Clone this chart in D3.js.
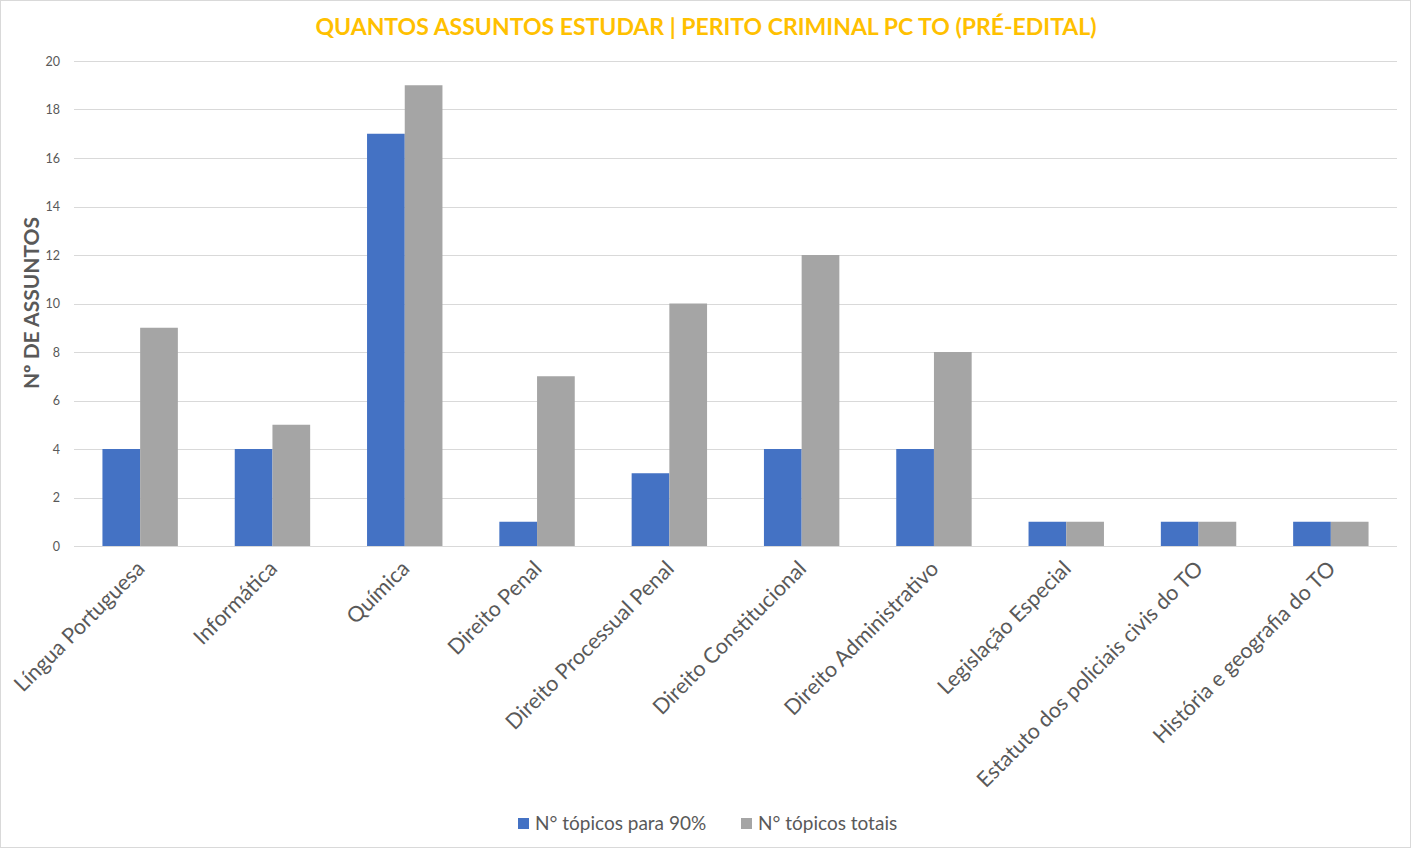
<!DOCTYPE html>
<html><head><meta charset="utf-8">
<script src="https://cdn.jsdelivr.net/npm/d3@7"></script>
<style>body{margin:0;background:#fff}svg{display:block}</style>
</head><body>
<svg id="c" width="1412" height="849"></svg>
<script>
const categories = ["Língua Portuguesa","Informática","Química","Direito Penal","Direito Processual Penal","Direito Constitucional","Direito Administrativo","Legislação Especial","Estatuto dos policiais civis do TO","História e geografia do TO"];
const series90 = [4,4,17,1,3,4,4,1,1,1];
const seriesTotal = [9,5,19,7,10,12,8,1,1,1];
const seriesNames = ["N° tópicos para 90%","N° tópicos totais"];
const yTicks = [0,2,4,6,8,10,12,14,16,18,20];
const title = "QUANTOS ASSUNTOS ESTUDAR | PERITO CRIMINAL PC TO (PRÉ-EDITAL)";
const yTitle = "Nº DE ASSUNTOS";

(function(){
const svg = d3.select("#c");
const font = "Lato, 'Open Sans', sans-serif";
const txt = "#595959";
const colors = ["#4472C4","#A5A5A5"];

svg.append("rect").attr("x",0.5).attr("y",0.5).attr("width",1410).attr("height",847)
  .attr("fill","#fff").attr("stroke","#D9D9D9");

const pl=74, pr=1397, pt=61, pb=546;
const x = d3.scaleBand().domain(categories).range([pl,pr]).paddingInner(0.43).paddingOuter(0.215);
const xs = d3.scaleBand().domain([0,1]).range([0,x.bandwidth()]);
const y = d3.scaleLinear().domain([0,20]).range([pb,pt]);

svg.append("g").selectAll("line").data(yTicks).join("line")
  .attr("x1",pl).attr("x2",pr)
  .attr("y1",d=>Math.round(y(d))+0.5).attr("y2",d=>Math.round(y(d))+0.5)
  .attr("stroke","#D9D9D9").attr("stroke-width",1);

const ya = svg.append("g").attr("transform",`translate(${pl-14},0)`)
  .call(d3.axisLeft(y).tickValues(yTicks).tickSize(0).tickPadding(0));
ya.select(".domain").remove();
ya.selectAll("text").attr("fill",txt).attr("font-size","12.5px").attr("font-family",font);

const data = categories.map((c,i)=>({c, v:[series90[i],seriesTotal[i]]}));
const g = svg.append("g");
data.forEach(d=>{
  d.v.forEach((v,k)=>{
    g.append("rect").attr("x",x(d.c)+xs(k)).attr("width",xs.bandwidth())
      .attr("y",y(v)).attr("height",y(0)-y(v)).attr("fill",colors[k]);
  });
});

const xa = svg.append("g").attr("transform",`translate(0,${pb})`)
  .call(d3.axisBottom(x).tickSize(0).tickPadding(0));
xa.select(".domain").remove();
xa.selectAll("text").attr("fill",txt).attr("font-size","21.5px").attr("font-family",font)
  .attr("text-anchor","end").attr("dy",0).attr("y",0)
  .attr("transform","translate(6,24) rotate(-45)");

svg.append("text").attr("x",706).attr("y",35).attr("text-anchor","middle")
  .attr("fill","#FFC000").attr("font-weight","bold").attr("font-size","23px")
  .attr("font-family",font).text(title);

svg.append("text").attr("transform","translate(39,303) rotate(-90)").attr("text-anchor","middle")
  .attr("fill",txt).attr("font-weight","bold").attr("font-size","21px").attr("font-family",font).text(yTitle);

const lg = svg.append("g");
const lx = [518,741];
seriesNames.forEach((n,k)=>{
  lg.append("rect").attr("x",lx[k]).attr("y",818).attr("width",11).attr("height",11).attr("fill",colors[k]);
  lg.append("text").attr("x",lx[k]+17).attr("y",830).attr("fill",txt).attr("font-size","19px")
    .attr("font-family",font).text(n);
});
})();
</script>
</body></html>
